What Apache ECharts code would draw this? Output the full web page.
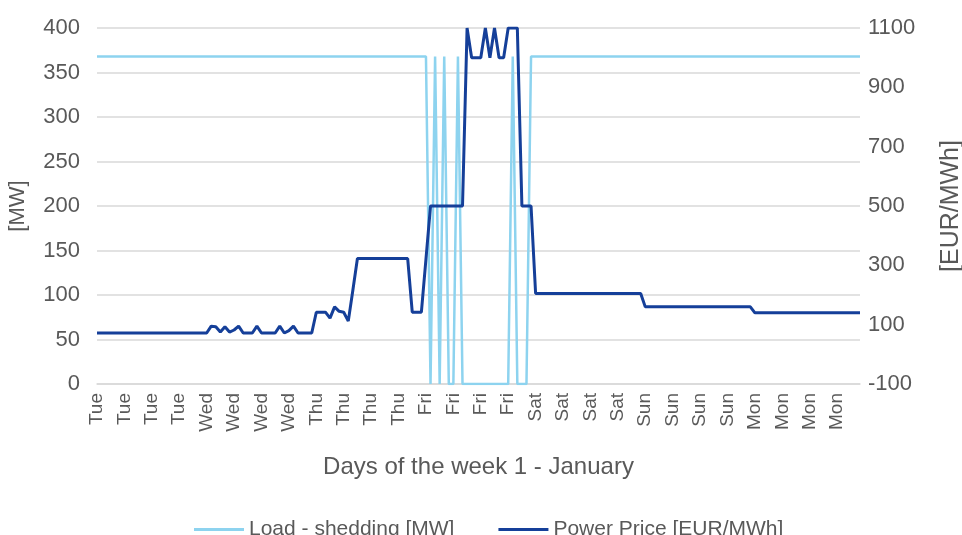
<!DOCTYPE html>
<html>
<head>
<meta charset="utf-8">
<script src="https://cdn.jsdelivr.net/npm/echarts@6/dist/echarts.min.js"></script>
<style>
  html, body { margin: 0; padding: 0; background: #ffffff; overflow: hidden; }
  #chart { width: 962px; height: 535px; }
</style>
</head>
<body>
<div id="chart"></div>
<script>
// Day labels (one category per hour, 24 per day)
const days = ['Tue', 'Wed', 'Thu', 'Fri', 'Sat', 'Sun', 'Mon'];

// Load - shedding [MW], hourly, per day
const loadTue = [368,368,368,368,368,368,368,368,368,368,368,368,368,368,368,368,368,368,368,368,368,368,368,368];
const loadWed = [368,368,368,368,368,368,368,368,368,368,368,368,368,368,368,368,368,368,368,368,368,368,368,368];
const loadThu = [368,368,368,368,368,368,368,368,368,368,368,368,368,368,368,368,368,368,368,368,368,368,368,368];
const loadFri = [368,0,368,0,368,0,0,368,0,0,0,0,0,0,0,0,0,0,0,368,0,0,0,368];
const loadSat = [368,368,368,368,368,368,368,368,368,368,368,368,368,368,368,368,368,368,368,368,368,368,368,368];
const loadSun = [368,368,368,368,368,368,368,368,368,368,368,368,368,368,368,368,368,368,368,368,368,368,368,368];
const loadMon = [368,368,368,368,368,368,368,368,368,368,368,368,368,368,368,368,368,368,368,368,368,368,368,368];

// Power Price [EUR/MWh], hourly, per day
const priceTue = [72,72,72,72,72,72,72,72,72,72,72,72,72,72,72,72,72,72,72,72,72,72,72,72];
const priceWed = [72,95,93,75,93,75,82,95,72,72,72,95,72,72,72,72,95,72,80,95,72,72,72,72];
const priceThu = [142,142,142,122,160,145,142,112,216,323,323,323,323,323,323,323,323,323,323,323,323,142,142,142];
const priceFri = [321,500,500,500,500,500,500,500,500,1100,1000,1000,1000,1100,1000,1100,1000,1000,1100,1100,1100,500,500,500];
const priceSat = [205,205,205,205,205,205,205,205,205,205,205,205,205,205,205,205,205,205,205,205,205,205,205,205];
const priceSun = [160,160,160,160,160,160,160,160,160,160,160,160,160,160,160,160,160,160,160,160,160,160,160,160];
const priceMon = [140,140,140,140,140,140,140,140,140,140,140,140,140,140,140,140,140,140,140,140,140,140,140,140];

const categories = [];
days.forEach(d => { for (let h = 0; h < 24; h++) categories.push(d); });
const loadData = [].concat(loadTue, loadWed, loadThu, loadFri, loadSat, loadSun, loadMon);
const priceData = [].concat(priceTue, priceWed, priceThu, priceFri, priceSat, priceSun, priceMon);

const txt = '#595959';
const font = '"Liberation Sans", Arial, sans-serif';

const chart = echarts.init(document.getElementById('chart'), null, { renderer: 'canvas' });
chart.setOption({
  animation: false,
  backgroundColor: '#ffffff',
  textStyle: { fontFamily: font },
  grid: { left: 97, right: 102, top: 28, bottom: 151, containLabel: false, outerBoundsMode: 'none' },
  legend: {
    bottom: -10,
    left: 189,
    itemGap: 44,
    itemWidth: 50,
    itemHeight: 3,
    icon: 'rect',
    textStyle: { color: txt, fontSize: 21, fontFamily: font },
    data: ['Load - shedding [MW]', 'Power Price [EUR/MWh]']
  },
  xAxis: {
    type: 'category',
    data: categories,
    boundaryGap: false,
    name: 'Days of the week 1 - January',
    nameLocation: 'middle',
    nameGap: 71,
    nameTextStyle: { color: txt, fontSize: 24, fontFamily: font },
    axisLine: { lineStyle: { color: '#d9d9d9', width: 1.5 } },
    axisTick: { show: false },
    axisLabel: { interval: 5, rotate: 90, color: txt, fontSize: 19, margin: 9, fontFamily: font },
    splitLine: { show: false }
  },
  yAxis: [
    {
      type: 'value',
      min: 0, max: 400, interval: 50,
      name: '[MW]',
      nameLocation: 'middle',
      nameGap: 68,
      nameTextStyle: { color: txt, fontSize: 22, fontFamily: font },
      axisLine: { show: false },
      axisTick: { show: false },
      axisLabel: { color: txt, fontSize: 22, margin: 17, fontFamily: font },
      splitLine: { lineStyle: { color: '#d9d9d9', width: 1.5 } }
    },
    {
      type: 'value',
      min: -100, max: 1100, interval: 200,
      name: '[EUR/MWh]',
      nameLocation: 'middle',
      nameGap: 79,
      nameTextStyle: { color: txt, fontSize: 25, fontFamily: font },
      axisLine: { show: false },
      axisTick: { show: false },
      axisLabel: { color: txt, fontSize: 22, margin: 8, fontFamily: font, formatter: v => String(v) },
      splitLine: { show: false }
    }
  ],
  series: [
    {
      name: 'Load - shedding [MW]',
      type: 'line',
      yAxisIndex: 0,
      data: loadData,
      showSymbol: false,
      symbol: 'none',
      lineStyle: { color: '#8dd3ef', width: 2.5 },
      itemStyle: { color: '#8dd3ef' }
    },
    {
      name: 'Power Price [EUR/MWh]',
      type: 'line',
      yAxisIndex: 1,
      data: priceData,
      showSymbol: false,
      symbol: 'none',
      lineStyle: { color: '#153f99', width: 3 },
      itemStyle: { color: '#153f99' }
    }
  ]
});
</script>
</body>
</html>
